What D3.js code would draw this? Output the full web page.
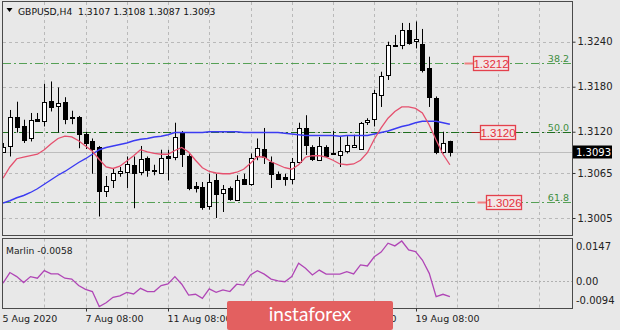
<!DOCTYPE html>
<html><head><meta charset="utf-8">
<script src="https://cdn.jsdelivr.net/npm/d3@7/dist/d3.min.js"></script>
<style>
html,body{margin:0;padding:0;background:#e8e8e8;}
svg{display:block;font-family:"DejaVu Sans",sans-serif;}
</style></head><body>
<svg id="c" width="620" height="330"></svg>
<script>
// ---------- data ----------
const symbolTitle = "GBPUSD,H4";
const barTimes = [
 "2020-08-05 08:00","2020-08-05 12:00","2020-08-05 16:00","2020-08-05 20:00",
 "2020-08-06 00:00","2020-08-06 04:00","2020-08-06 08:00","2020-08-06 12:00","2020-08-06 16:00","2020-08-06 20:00",
 "2020-08-07 00:00","2020-08-07 04:00","2020-08-07 08:00","2020-08-07 12:00","2020-08-07 16:00","2020-08-07 20:00",
 "2020-08-10 00:00","2020-08-10 04:00","2020-08-10 08:00","2020-08-10 12:00","2020-08-10 16:00","2020-08-10 20:00",
 "2020-08-11 00:00","2020-08-11 04:00","2020-08-11 08:00","2020-08-11 12:00","2020-08-11 16:00","2020-08-11 20:00",
 "2020-08-12 00:00","2020-08-12 04:00","2020-08-12 08:00","2020-08-12 12:00","2020-08-12 16:00","2020-08-12 20:00",
 "2020-08-13 00:00","2020-08-13 04:00","2020-08-13 08:00","2020-08-13 12:00","2020-08-13 16:00","2020-08-13 20:00",
 "2020-08-14 00:00","2020-08-14 04:00","2020-08-14 08:00","2020-08-14 12:00","2020-08-14 16:00","2020-08-14 20:00",
 "2020-08-17 00:00","2020-08-17 04:00","2020-08-17 08:00","2020-08-17 12:00","2020-08-17 16:00","2020-08-17 20:00",
 "2020-08-18 00:00","2020-08-18 04:00","2020-08-18 08:00","2020-08-18 12:00","2020-08-18 16:00","2020-08-18 20:00",
 "2020-08-19 00:00","2020-08-19 04:00","2020-08-19 08:00","2020-08-19 12:00","2020-08-19 16:00","2020-08-19 20:00",
 "2020-08-20 00:00","2020-08-20 04:00"];
const openP  = [1.3094,1.3101,1.3140,1.3128,1.3111,1.3137,1.3135,1.3161,1.3154,1.3160,
 1.3140,1.3139,1.3117,1.3107,1.3099,1.3041,1.3056,1.3064,1.3067,1.3076,
 1.3067,1.3085,1.3069,1.3065,1.3088,1.3087,1.3119,1.3088,1.3047,1.3046,
 1.3021,1.3055,1.3038,1.3045,1.3030,1.3057,1.3050,1.3087,1.3097,1.3079,
 1.3064,1.3060,1.3057,1.3080,1.3125,1.3099,1.3083,1.3100,1.3091,1.3089,
 1.3094,1.3100,1.3098,1.3132,1.3137,1.3169,1.3196,1.3236,1.3236,1.3255,
 1.3240,1.3237,1.3205,1.3165,1.3093,1.3107];
const highP  = [1.3105,1.3149,1.3160,1.3136,1.3145,1.3145,1.3184,1.3187,1.3179,1.3166,
 1.3148,1.3141,1.3120,1.3111,1.3101,1.3061,1.3071,1.3073,1.3087,1.3087,
 1.3101,1.3087,1.3076,1.3096,1.3096,1.3132,1.3121,1.3090,1.3053,1.3053,
 1.3064,1.3064,1.3049,1.3047,1.3062,1.3064,1.3091,1.3111,1.3125,1.3087,
 1.3067,1.3064,1.3085,1.3132,1.3142,1.3102,1.3113,1.3102,1.3121,1.3113,
 1.3114,1.3116,1.3133,1.3138,1.3176,1.3200,1.3240,1.3249,1.3265,1.3265,
 1.3267,1.3257,1.3220,1.3167,1.3120,1.3108];
const lowP   = [1.3092,1.3087,1.3119,1.3105,1.3107,1.3133,1.3127,1.3147,1.3119,1.3130,
 1.3130,1.3098,1.3097,1.3064,1.3007,1.3033,1.3045,1.3060,1.3045,1.3018,
 1.3062,1.3060,1.3062,1.3064,1.3055,1.3082,1.3073,1.3042,1.3039,1.3016,
 1.3016,1.3005,1.3013,1.3028,1.3029,1.3049,1.3048,1.3082,1.3077,1.3045,
 1.3056,1.3048,1.3050,1.3078,1.3089,1.3081,1.3082,1.3086,1.3089,1.3073,
 1.3091,1.3099,1.3097,1.3129,1.3127,1.3153,1.3189,1.3233,1.3230,1.3236,
 1.3231,1.3199,1.3153,1.3090,1.3091,1.3087];
const closeP = [1.3100,1.3140,1.3127,1.3109,1.3135,1.3134,1.3160,1.3153,1.3158,1.3138,
 1.3139,1.3116,1.3105,1.3097,1.3040,1.3048,1.3065,1.3067,1.3077,1.3065,
 1.3084,1.3069,1.3068,1.3085,1.3086,1.3113,1.3090,1.3045,1.3045,1.3020,
 1.3053,1.3036,1.3043,1.3030,1.3056,1.3050,1.3085,1.3098,1.3086,1.3063,
 1.3058,1.3057,1.3080,1.3125,1.3102,1.3083,1.3101,1.3088,1.3090,1.3094,
 1.3102,1.3102,1.3132,1.3135,1.3172,1.3194,1.3236,1.3235,1.3256,1.3238,
 1.3243,1.3202,1.3166,1.3093,1.3105,1.3093];
const maFast = [1.3058,1.3073,1.3084,1.3086,1.3088,1.3090,1.3096,1.3104,1.3111,1.3114,
 1.3113,1.3108,1.3101,1.3094,1.3083,1.3073,1.3071,1.3074,1.3081,1.3088,
 1.3096,1.3093,1.3091,1.3090,1.3090,1.3095,1.3099,1.3093,1.3082,1.3072,
 1.3067,1.3065,1.3064,1.3064,1.3066,1.3070,1.3078,1.3087,1.3086,1.3080,
 1.3076,1.3072,1.3070,1.3076,1.3086,1.3088,1.3088,1.3086,1.3082,1.3077,
 1.3076,1.3077,1.3082,1.3092,1.3110,1.3125,1.3138,1.3147,1.3153,1.3153,
 1.3151,1.3145,1.3129,1.3109,1.3090,1.3076];
const maSlow = [1.3025,1.3028,1.3032,1.3035,1.3039,1.3044,1.3050,1.3056,1.3062,1.3067,
 1.3073,1.3079,1.3084,1.3090,1.3096,1.3099,1.3101,1.3103,1.3105,1.3108,
 1.3110,1.3111,1.3113,1.3114,1.3116,1.3119,1.3119,1.3119,1.3119,1.3119,
 1.3120,1.3120,1.3120,1.3120,1.3120,1.3119,1.3119,1.3119,1.3119,1.3119,
 1.3119,1.3118,1.3117,1.3116,1.3115,1.3115,1.3115,1.3115,1.3115,1.3114,
 1.3115,1.3115,1.3115,1.3115,1.3117,1.3119,1.3121,1.3124,1.3127,1.3129,
 1.3132,1.3134,1.3134,1.3134,1.3132,1.3130];
const marlin = [-0.0008,0.0031,0.0016,-0.0006,0.0016,0.0010,0.0038,0.0026,0.0026,0.0010,
 0.0007,-0.0017,-0.0031,-0.0039,-0.0094,-0.0080,-0.0060,-0.0055,-0.0042,-0.0048,
 -0.0027,-0.0039,-0.0039,-0.0017,-0.0011,0.0016,-0.0012,-0.0052,-0.0049,-0.0064,
 -0.0029,-0.0042,-0.0033,-0.0039,-0.0012,-0.0015,0.0022,0.0038,0.0025,0.0007,
 0.0000,-0.0003,0.0016,0.0065,0.0047,0.0022,0.0040,0.0025,0.0025,0.0025,
 0.0034,0.0026,0.0059,0.0055,0.0089,0.0106,0.0139,0.0129,0.0147,0.0114,
 0.0108,0.0077,0.0028,-0.0058,-0.0049,-0.0058];
const priceTicks = [1.3240,1.3180,1.3120,1.3065,1.3005];
const marlinTicks = [0.0147,0.00,-0.0094];
const marlinTickLabels = ["0.0147","0.00","-0.0094"];
const timeTickAt = ["2020-08-05 08:00","2020-08-07 08:00","2020-08-11 08:00","2020-08-13 08:00","2020-08-17 08:00","2020-08-19 08:00"];
const timeTickLabels = ["5 Aug 2020","7 Aug 08:00","11 Aug 08:00","13 Aug 08:00","17 Aug 08:00","19 Aug 08:00"];
const fibLevels = ["38.2","50.0","61.8"];
const fibPrices = [1.3212,1.3120,1.3026];
const markLabels = ["1.3212","1.3120","1.3026"];
const markPrices = [1.3212,1.3120,1.3026];
const indicatorName = "Marlin";

// ---------- layout ----------
const W = 620, H = 330;
const L = 3, R = 572, mTop = 2, mBot = 236, iTop = 238.5, iBot = 308.5;
const barStep = 6.875;
const svg = d3.select("#c");
const n = barTimes.length;
const x = d3.scaleLinear().domain([0, n - 1]).range([L, L + (n - 1) * barStep]);
const y = d3.scaleLinear().domain([1.3005, 1.3240]).range([218, 41.7]);
const ym = d3.scaleLinear().domain([-0.0094, 0.0147]).range([306.5, 241]);
const px = i => Math.round(x(i)) + 0.5;
const f4 = v => d3.format(".4f")(v).replace("\u2212", "-");

svg.append("rect").attr("width", W).attr("height", H).attr("fill", "#e8e8e8");

const defs = svg.append("defs");
defs.append("clipPath").attr("id", "cm").append("rect").attr("x", L).attr("y", mTop).attr("width", R - L).attr("height", mBot - mTop);
defs.append("clipPath").attr("id", "ci").append("rect").attr("x", L).attr("y", iTop).attr("width", R - L).attr("height", iBot - iTop);

const gm = svg.append("g").attr("clip-path", "url(#cm)");
const gi = svg.append("g").attr("clip-path", "url(#ci)");

// vertical grid (every 6 bars)
const gridIdx = d3.range(6, 84, 6).filter(i => x(i) < R - 2);
[[gm, mTop, mBot], [gi, iTop, iBot]].forEach(([g, t, b]) => {
  g.selectAll(null).data(gridIdx).join("line")
    .attr("x1", d => px(d)).attr("x2", d => px(d)).attr("y1", t).attr("y2", b)
    .attr("stroke", "#b9b9b9").attr("stroke-dasharray", "3,3");
});
// horizontal grid
gm.selectAll(null).data(priceTicks).join("line")
  .attr("x1", L).attr("x2", R).attr("y1", d => Math.round(y(d)) + 0.5).attr("y2", d => Math.round(y(d)) + 0.5)
  .attr("stroke", "#b9b9b9").attr("stroke-dasharray", "3,3");
gi.append("line").attr("x1", L).attr("x2", R).attr("y1", Math.round(ym(0)) + 0.5).attr("y2", Math.round(ym(0)) + 0.5)
  .attr("stroke", "#b0b0b0").attr("stroke-dasharray", "2,2");

// current price line
const last = closeP[n - 1];
gm.append("line").attr("x1", L).attr("x2", R).attr("y1", Math.round(y(last)) + 0.5).attr("y2", Math.round(y(last)) + 0.5)
  .attr("stroke", "#bdbdbd");

// fibonacci levels
const fibCol = ["#55a055", "#1e6e1e", "#55a055"];
fibPrices.forEach((p, k) => {
  const yy = Math.round(y(p)) + 0.5;
  gm.append("line").attr("x1", L).attr("x2", R).attr("y1", yy).attr("y2", yy)
    .attr("stroke", fibCol[k]).attr("stroke-width", 1.2).attr("stroke-dasharray", "8,3,2,3");
  gm.append("text").attr("x", R - 3).attr("y", yy - 2).attr("text-anchor", "end")
    .attr("font-size", 9.5).attr("fill", "#3e8e3e").text(fibLevels[k]);
});

// candles
const idx = d3.range(n);
gm.selectAll(null).data(idx).join("line")
  .attr("x1", px).attr("x2", px).attr("y1", i => y(highP[i])).attr("y2", i => y(lowP[i]))
  .attr("stroke", "#000").attr("stroke-width", 1);
gm.selectAll(null).data(idx).join("rect")
  .attr("x", i => px(i) - 2).attr("width", 4)
  .attr("y", i => Math.round(y(Math.max(openP[i], closeP[i]))) + 0.5)
  .attr("height", i => Math.max(1, Math.round(Math.abs(y(openP[i]) - y(closeP[i])))))
  .attr("fill", i => closeP[i] >= openP[i] ? "#ffffff" : "#000000")
  .attr("stroke", "#000").attr("stroke-width", 1);

// moving averages
const line = d3.line().x((d, i) => x(i)).y(d => y(d)).curve(d3.curveLinear);
gm.append("path").attr("d", line(maSlow)).attr("fill", "none").attr("stroke", "#3b3bf2").attr("stroke-width", 1.4);
gm.append("path").attr("d", line(maFast)).attr("fill", "none").attr("stroke", "#e5506e").attr("stroke-width", 1.3);

// annotation boxes
const markAt = [68.4, 69.4, 70.25];
markPrices.forEach((p, k) => {
  const x0 = Math.round(x(markAt[k])) + 0.5, yy = Math.round(y(p)) + 0.5;
  gm.append("line").attr("x1", x0 - 9).attr("x2", x0).attr("y1", yy).attr("y2", yy)
    .attr("stroke", k === 1 ? "#b02020" : "#f08080").attr("stroke-width", k === 1 ? 1 : 2);
  gm.append("rect").attr("x", x0).attr("y", yy - 7).attr("width", 35).attr("height", 14)
    .attr("fill", "#f2e6e6").attr("stroke", "#e4404c").attr("stroke-width", 1.3);
  gm.append("text").attr("x", x0 + 17.5).attr("y", yy + 4.5).attr("text-anchor", "middle")
    .attr("font-family", "Liberation Sans, Arial, sans-serif").attr("font-size", 11.5)
    .attr("fill", "#e4303c").text(markLabels[k]);
});

// marlin line
const lineI = d3.line().x((d, i) => x(i)).y(d => ym(d));
gi.append("path").attr("d", lineI(marlin)).attr("fill", "none").attr("stroke", "#b046b6").attr("stroke-width", 1.3);

// frames
svg.append("rect").attr("x", L - 0.5).attr("y", mTop - 0.5).attr("width", R - L + 1).attr("height", mBot - mTop)
  .attr("fill", "none").attr("stroke", "#4a4a4a");
svg.append("rect").attr("x", L - 0.5).attr("y", iTop).attr("width", R - L + 1).attr("height", iBot - iTop)
  .attr("fill", "none").attr("stroke", "#4a4a4a");

// price axis
const ay = svg.append("g").attr("transform", `translate(${R + 0.5},0)`)
  .call(d3.axisRight(y).tickValues(priceTicks).tickFormat(f4).tickSize(3).tickPadding(2));
ay.select(".domain").remove();
ay.selectAll("line").attr("stroke", "#333");
ay.selectAll("text").attr("font-size", 10).attr("fill", "#222").attr("font-family", "DejaVu Sans");

// current price tag
svg.append("rect").attr("x", R + 1).attr("y", Math.round(y(last)) - 6.5).attr("width", 39).attr("height", 13).attr("fill", "#000");
svg.append("text").attr("x", R + 4).attr("y", Math.round(y(last)) + 4).attr("font-size", 10).attr("fill", "#fff").text(f4(last));

// indicator axis labels
marlinTicks.forEach((v, k) => {
  const dy = k === 0 ? 9 : (k === 1 ? 4 : -2.5);
  svg.append("text").attr("x", R + 4).attr("y", ym(v) + dy).attr("font-size", 10).attr("fill", "#222").text(marlinTickLabels[k]);
});

// time axis
const tickIdx = timeTickAt.map(t => barTimes.indexOf(t));
const ax = svg.append("g").attr("transform", `translate(0,${iBot})`)
  .call(d3.axisBottom(x).tickValues(tickIdx).tickFormat((d, k) => timeTickLabels[k]).tickSize(3).tickPadding(4));
ax.select(".domain").remove();
ax.selectAll(".tick").attr("transform", d => `translate(${px(d)},0)`);
ax.selectAll("line").attr("stroke", "#333");
ax.selectAll("text").attr("text-anchor", "start").attr("x", -1).attr("font-size", 9.5).attr("fill", "#222").attr("font-family", "DejaVu Sans");
ax.selectAll(".tick").filter((d, k) => k === 0).select("line").remove();

// titles
svg.append("path").attr("d", "M6.5,8 L12.5,8 L9.5,12 Z").attr("fill", "#000");
svg.append("text").attr("x", 18).attr("y", 15).attr("font-size", 9.2).attr("fill", "#111")
  .style("white-space", "pre")
  .text(`${symbolTitle}  ${f4(openP[n-1])} ${f4(highP[n-1])} ${f4(lowP[n-1])} ${f4(closeP[n-1])}`);
svg.append("text").attr("x", 6).attr("y", 253.5).attr("font-size", 9.2).attr("fill", "#222")
  .text(`${indicatorName} ${f4(marlin[n-1])}`);

// watermark logo
svg.append("rect").attr("x", 227).attr("y", 301).attr("width", 166).attr("height", 29).attr("rx", 2).attr("fill", "#e36060");
svg.append("text").attr("x", 310).attr("y", 321).attr("text-anchor", "middle")
  .attr("font-family", "Lato, 'Open Sans', sans-serif").attr("font-size", 19).attr("fill", "#ffffff").text("instaforex");
</script>
</body></html>
